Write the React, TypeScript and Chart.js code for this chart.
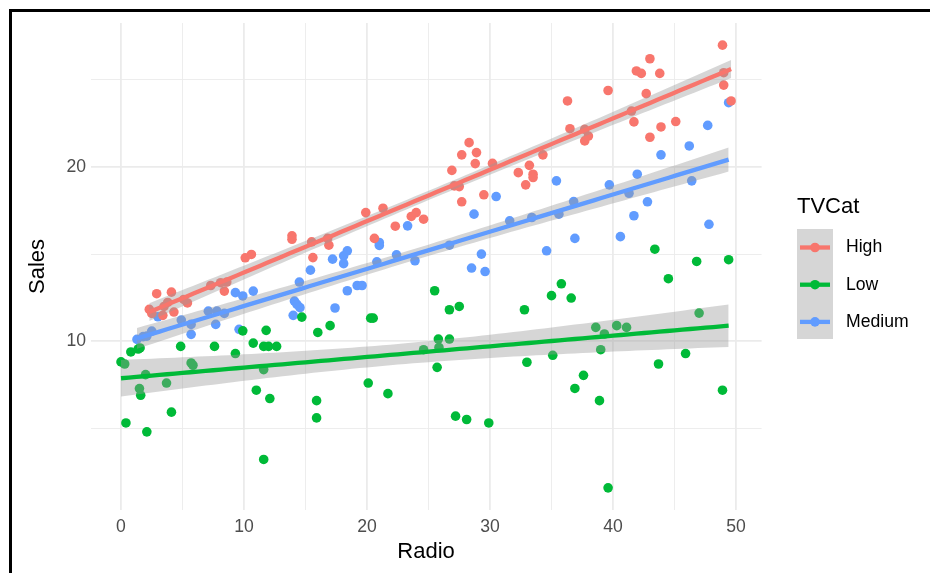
import React, { useEffect, useRef } from 'react';
import { Chart, registerables } from 'chart.js';

Chart.register(...registerables);

// ---------- data ----------
const categories = ['High', 'Low', 'Medium'];
const categoryColors = ['#F8766D', '#00BA38', '#619CFF'];

const highRadio = [2.3, 2.5, 2.9, 3.4, 3.5, 3.8, 4.1, 4.3, 5.1, 5.4, 7.3, 8.1, 8.6, 8.4, 10.1, 10.6, 13.9, 13.9, 15.5, 15.6, 16.8, 16.9, 19.9, 20.6, 21.3, 22.3, 23.6, 24.0, 24.6, 26.9, 27.1, 27.5, 27.7, 27.7, 28.3, 28.8, 28.9, 29.5, 30.2, 32.3, 32.9, 33.2, 33.5, 33.5, 34.3, 36.3, 36.5, 37.7, 38.0, 37.7, 39.6, 41.5, 41.7, 41.9, 42.3, 42.7, 43.0, 43.0, 43.8, 43.9, 45.1, 48.9, 49.0, 49.0, 49.6];
const highSales = [11.83, 11.6, 12.73, 11.49, 12.0, 12.23, 12.82, 11.68, 12.4, 12.2, 13.2, 13.36, 13.4, 12.88, 14.79, 14.98, 16.05, 15.85, 15.7, 14.8, 15.9, 15.51, 17.38, 15.9, 17.63, 16.6, 17.16, 17.38, 17.0, 19.8, 18.91, 18.87, 20.69, 18.0, 21.39, 20.19, 20.82, 18.4, 20.2, 19.67, 18.97, 20.09, 19.58, 19.39, 20.69, 23.78, 22.19, 22.15, 21.77, 21.49, 24.38, 23.2, 22.58, 25.5, 25.36, 24.2, 26.2, 21.7, 25.36, 22.29, 22.6, 26.98, 25.4, 24.69, 23.78];

const lowRadio = [0.0, 0.3, 0.8, 1.4, 1.55, 2.0, 1.5, 1.6, 0.4, 2.1, 3.7, 4.1, 4.85, 5.7, 5.85, 7.6, 9.3, 9.9, 10.75, 11.8, 11.6, 12.0, 12.65, 11.0, 11.6, 12.1, 11.6, 14.7, 16.0, 15.9, 15.9, 17.0, 20.3, 20.5, 20.1, 21.7, 25.5, 26.7, 27.5, 25.8, 26.7, 24.6, 25.85, 25.7, 27.2, 28.1, 29.9, 32.8, 33.0, 35.0, 35.8, 36.6, 35.1, 38.6, 39.3, 39.0, 40.3, 41.1, 37.6, 36.9, 38.9, 39.6, 44.5, 43.7, 45.9, 47.0, 48.9, 43.4, 46.8, 49.4];
const lowSales = [8.82, 8.7, 9.39, 9.56, 9.62, 8.09, 7.29, 6.91, 5.32, 4.81, 7.61, 5.94, 9.71, 8.76, 8.63, 9.71, 9.3, 10.6, 9.9, 10.63, 9.71, 9.71, 9.71, 7.2, 8.38, 6.72, 3.23, 11.39, 10.51, 6.6, 5.61, 10.9, 11.33, 11.33, 7.61, 7.0, 12.9, 11.81, 12.0, 10.13, 10.13, 9.52, 9.65, 8.51, 5.71, 5.52, 5.32, 11.81, 8.8, 12.62, 13.3, 12.48, 9.2, 10.8, 10.42, 9.52, 10.9, 10.8, 8.05, 7.3, 6.6, 1.6, 13.59, 8.7, 9.3, 11.62, 7.2, 15.28, 14.58, 14.68];

const mediumRadio = [1.3, 1.8, 2.1, 2.5, 3.0, 4.9, 5.7, 5.7, 7.1, 7.8, 7.7, 8.4, 9.3, 9.9, 10.75, 9.6, 14.1, 14.3, 14.55, 14.0, 14.5, 15.4, 17.2, 18.1, 18.4, 18.1, 21.0, 21.0, 20.8, 22.4, 23.9, 23.3, 26.7, 28.5, 29.3, 28.7, 30.5, 31.6, 33.4, 18.4, 19.2, 19.6, 17.4, 29.6, 35.4, 36.8, 35.6, 36.9, 34.6, 39.7, 40.6, 41.3, 41.7, 41.97, 42.8, 43.9, 46.2, 46.4, 47.7, 47.8, 49.4];
const mediumSales = [10.11, 10.27, 10.3, 10.59, 11.41, 11.22, 10.97, 10.4, 11.73, 11.73, 10.97, 11.6, 12.79, 12.6, 12.88, 10.69, 12.31, 12.12, 11.93, 11.49, 13.4, 14.08, 14.71, 14.9, 15.19, 14.45, 15.67, 15.5, 14.56, 14.96, 14.62, 16.62, 15.51, 14.2, 15.0, 17.29, 18.3, 16.91, 17.1, 12.9, 13.2, 13.2, 11.91, 14.0, 19.2, 18.01, 17.29, 15.9, 15.19, 18.97, 16.0, 18.49, 17.2, 19.58, 18.0, 20.69, 21.2, 19.2, 22.38, 16.71, 23.68];

const xTicks = [0, 5, 10, 15, 20, 25, 30, 35, 40, 45, 50];
const yTicks = [5, 10, 15, 20, 25];
const xLabel = 'Radio';
const yLabel = 'Sales';
const legendTitle = 'TVCat';

const FONT = '"Liberation Sans", Arial, Helvetica, sans-serif';

// ---------- helpers ----------
function tQuantile(df: number) {
  const z = 1.959964;
  return z + (z ** 3 + z) / (4 * df) + (5 * z ** 5 + 16 * z ** 3 + 3 * z) / (96 * df * df);
}

function smooth(xs: number[], ys: number[]) {
  const n = xs.length;
  const mx = xs.reduce((a, b) => a + b, 0) / n;
  const my = ys.reduce((a, b) => a + b, 0) / n;
  let sxx = 0, sxy = 0;
  for (let i = 0; i < n; i++) {
    sxx += (xs[i] - mx) ** 2;
    sxy += (xs[i] - mx) * (ys[i] - my);
  }
  const b = sxy / sxx;
  const a = my - b * mx;
  let sse = 0;
  for (let i = 0; i < n; i++) sse += (ys[i] - a - b * xs[i]) ** 2;
  const s = Math.sqrt(sse / (n - 2));
  const t = tQuantile(n - 2);
  const lo = Math.min(...xs);
  const hi = Math.max(...xs);
  const line: any[] = [], upper: any[] = [], lower: any[] = [];
  for (let i = 0; i < 80; i++) {
    const x = lo + ((hi - lo) * i) / 79;
    const yh = a + b * x;
    const se = s * Math.sqrt(1 / n + (x - mx) ** 2 / sxx);
    line.push({ x, y: yh });
    upper.push({ x, y: yh + t * se });
    lower.push({ x, y: yh - t * se });
  }
  return { line, upper, lower };
}

const legendPlugin = {
  id: 'ggLegend',
  afterDraw(chart: any) {
    const ctx = chart.ctx;
    ctx.save();
    ctx.textBaseline = 'middle';
    ctx.textAlign = 'left';
    ctx.fillStyle = '#000000';
    ctx.font = `22px ${FONT}`;
    ctx.fillText(legendTitle, 797, 207);
    ctx.fillStyle = 'rgba(153,153,153,0.4)';
    ctx.fillRect(797, 229, 36, 110);
    categories.forEach((c, i) => {
      const y = 247.5 + i * 37.2;
      ctx.strokeStyle = categoryColors[i];
      ctx.lineWidth = 4.3;
      ctx.beginPath();
      ctx.moveTo(800, y);
      ctx.lineTo(830, y);
      ctx.stroke();
      ctx.fillStyle = categoryColors[i];
      ctx.beginPath();
      ctx.arc(815, y, 4.8, 0, Math.PI * 2);
      ctx.fill();
      ctx.fillStyle = '#000000';
      ctx.font = `17.6px ${FONT}`;
      ctx.fillText(c, 846, y);
    });
    ctx.restore();
  },
};

export default function App() {
  const canvasRef = useRef<HTMLCanvasElement | null>(null);

  useEffect(() => {
    if (!canvasRef.current) return;
    const groups = [
      { xs: highRadio, ys: highSales },
      { xs: lowRadio, ys: lowSales },
      { xs: mediumRadio, ys: mediumSales },
    ];
    const datasets: any[] = [];
    groups.forEach((g, gi) => {
      datasets.push({
        type: 'line',
        label: categories[gi],
        data: g.xs.map((x, i) => ({ x, y: g.ys[i] })),
        showLine: false,
        backgroundColor: categoryColors[gi],
        borderColor: categoryColors[gi],
        pointBackgroundColor: categoryColors[gi],
        pointBorderWidth: 0,
        pointRadius: 4.8,
        pointHoverRadius: 4.8,
        order: 3,
      });
    });
    groups.forEach((g, gi) => {
      const f = smooth(g.xs, g.ys);
      datasets.push({
        type: 'line',
        label: categories[gi] + ' upper',
        data: f.upper,
        borderColor: 'transparent',
        borderWidth: 1,
        pointRadius: 0,
        fill: '+1',
        backgroundColor: 'rgba(153,153,153,0.4)',
        order: 2,
      });
      datasets.push({
        type: 'line',
        label: categories[gi] + ' lower',
        data: f.lower,
        borderColor: 'transparent',
        borderWidth: 1,
        pointRadius: 0,
        fill: false,
        order: 2,
      });
      datasets.push({
        type: 'line',
        label: categories[gi] + ' fit',
        data: f.line,
        borderColor: categoryColors[gi],
        borderWidth: 4.3,
        pointRadius: 0,
        fill: false,
        order: 1,
      });
    });

    const chart = new Chart(canvasRef.current, {
      type: 'line',
      data: { datasets },
      options: {
        animation: false,
        responsive: false,
        maintainAspectRatio: false,
        events: [],
        layout: { padding: { left: 0, top: 23, right: 168.4, bottom: 0 } },
        plugins: { legend: { display: false }, tooltip: { enabled: false } },
        scales: {
          x: {
            type: 'linear',
            min: -2.48,
            max: 52.08,
            afterBuildTicks: (s: any) => {
              s.ticks = xTicks.map((v) => ({ value: v }));
            },
            afterFit: (s: any) => {
              s.height = 63;
            },
            grid: {
              color: '#ebebeb',
              lineWidth: (c: any) => (c.tick && c.tick.value % 10 === 0 ? 1.8 : 0.9),
              drawTicks: false,
            },
            border: { display: false },
            ticks: {
              autoSkip: false,
              maxRotation: 0,
              padding: 6.5,
              color: '#4d4d4d',
              font: { family: FONT, size: 17.6 },
              callback: (v: any) => (Number(v) % 10 === 0 ? String(v) : ''),
            },
            title: {
              display: true,
              text: xLabel,
              color: '#000000',
              font: { family: FONT, size: 22 },
              padding: { top: 0, bottom: 7.8 },
            },
          },
          y: {
            type: 'linear',
            min: 0.331,
            max: 28.249,
            afterBuildTicks: (s: any) => {
              s.ticks = yTicks.map((v) => ({ value: v }));
            },
            afterFit: (s: any) => {
              s.width = 90.5;
            },
            grid: {
              color: '#ebebeb',
              lineWidth: (c: any) => (c.tick && c.tick.value % 10 === 0 ? 1.8 : 0.9),
              drawTicks: false,
            },
            border: { display: false },
            ticks: {
              autoSkip: false,
              padding: 4.4,
              color: '#4d4d4d',
              font: { family: FONT, size: 17.6 },
              callback: (v: any) => (Number(v) % 10 === 0 ? String(v) : ''),
            },
            title: {
              display: true,
              text: yLabel,
              color: '#000000',
              font: { family: FONT, size: 22 },
              padding: { top: 24.8, bottom: 0 },
            },
          },
        },
      },
      plugins: [legendPlugin],
    } as any);

    return () => chart.destroy();
  }, []);

  return (
    <div
      style={{
        position: 'fixed',
        left: 0,
        top: 0,
        width: 930,
        height: 573,
        overflow: 'hidden',
        background: '#ffffff',
      }}
    >
      <canvas ref={canvasRef} width={930} height={573} style={{ display: 'block', width: 930, height: 573 }} />
      <div
        style={{
          position: 'absolute',
          left: 9,
          top: 9,
          width: 940,
          height: 580,
          borderTop: '3px solid #000',
          borderLeft: '3px solid #000',
          pointerEvents: 'none',
        }}
      />
    </div>
  );
}
